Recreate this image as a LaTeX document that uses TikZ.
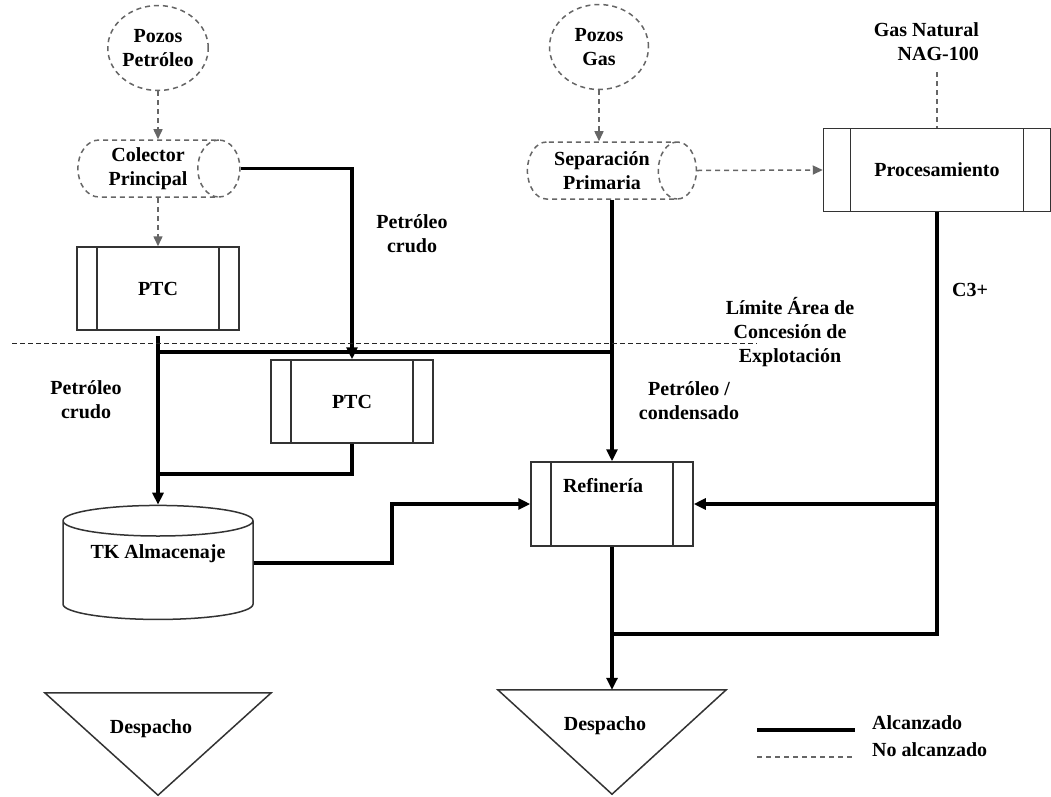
\documentclass[tikz,border=0pt]{standalone}
\usepackage{fontspec}
\setmainfont{Liberation Serif}
\usetikzlibrary{shapes.geometric,arrows.meta}

\begin{document}
\begin{tikzpicture}
            [x=1pt, y=-1pt, inner sep=2pt, align=center,
            font=\fontsize{20}{24}\selectfont\bfseries,
            shapeline/.style={draw=black!80, line width=1.5pt},
            procbox/.style={shapeline, rectangle, inner sep=0pt,
                minimum width=162pt, minimum height=83pt,
                path picture={
                    \draw[shapeline] ([xshift=#1]path picture bounding box.north west) -- ([xshift=#1]path picture bounding box.south west)
                        ([xshift=-#1]path picture bounding box.north east) -- ([xshift=-#1]path picture bounding box.south east);
                }},
            procbox/.default=20pt,
            nogo/.style={draw=black!60, line width=1.5pt, dash pattern=on 5pt off 4pt},
            wellnode/.style={nogo, ellipse, inner sep=0pt, minimum width=99pt, minimum height=85pt},
            sepnode/.style={nogo, cylinder, shape aspect=1, inner sep=0pt, minimum width=57pt},
            despbox/.style={inner sep=0pt, minimum width=226pt, minimum height=102pt},
            flow/.style={draw=black, line width=3.2pt},
            flowtip/.style={-{Triangle[length=12pt, width=11pt]}},
            nogotip/.style={-{Triangle[length=10pt, width=9pt]}}]
            \useasboundingbox (0,0) rectangle (1051,796);
            % left column
            \node [wellnode] (pozospet) at (158,48) {Pozos\\Petróleo};
            \node [sepnode, minimum height=162pt] (colector) at (148,168.5) {Colector\\Principal};
            \node [procbox] (ptc1) at (158,288.5) {PTC};
            \node [procbox] (ptc2) at (352,401.5) {PTC};
            \node [shapeline, cylinder, shape border rotate=90, shape aspect=0.22,
                minimum width=190pt, minimum height=114pt] (tank) at (158,572) {\raisebox{14pt}[0pt][0pt]{TK Almacenaje}};
            \node [despbox, label={[anchor=center, xshift=-7pt, yshift=-36pt]north:Despacho}] (desp1) at (158,744) {};
            % right column
            \node [wellnode] (pozosgas) at (599,47) {Pozos\\Gas};
            \node [sepnode, minimum height=169pt] (sep) at (602,170.5) {Separación\\Primaria};
            \node [procbox=27pt, minimum width=227pt] (proc) at (937,170) {Procesamiento};
            \node [procbox, minimum height=84pt,
                label={[anchor=center, xshift=-9pt, yshift=-24pt]north:Refinería}] (refi) at (612,504) {};
            \node [despbox, minimum width=228pt, minimum height=104pt,
                label={[anchor=center, xshift=-7pt, yshift=-36pt]north:Despacho}] (desp2) at (612,742) {};
            \foreach \d in {desp1,desp2}
                \draw [shapeline] (\d.north west) -- (\d.north east) -- (\d.south) -- cycle;
            \node [anchor=east, align=right] (gasnat) at (981,41.5) {Gas Natural\\NAG-100};
            \coordinate (gn) at (937,72);
            \coordinate (stepT) at (392,504);
            \coordinate (lim1) at (12,343);
            \coordinate (lim2) at (757,343);
            % flows
            \draw [nogo, nogotip] (pozospet.south) -- (pozospet.south |- colector.north);
            \draw [nogo, nogotip] (ptc1.north |- colector.south) -- (ptc1.north);
            \draw [nogo, nogotip] (pozosgas.south) -- (pozosgas.south |- sep.north);
            \draw [nogo, nogotip] (sep.east) -- (proc.west);
            \draw [nogo] (gn) -- (proc.north);
            \draw [flow, flowtip] (colector.east) -| (ptc2.north);
            \draw [flow, flowtip] ([yshift=-5pt]ptc1.south) -- (ptc1.south |- tank.north);
            \draw [flow] (ptc1.south |- 0,352) -- (refi.north |- 0,352);
            \draw [flow] (ptc2.south) |- (ptc1.south |- 0,474);
            \draw [flow, flowtip] (refi.north |- sep.south) -- (refi.north);
            \draw [flow, flowtip] (tank.east |- 0,563) -| (stepT) -- (refi.west);
            \draw [flow] (proc.south) -- (proc.south |- 0,634) -- (refi.south |- 0,634);
            \draw [flow, flowtip] (proc.south |- refi.east) -- (refi.east);
            \draw [flow, flowtip] (refi.south) -- (desp2.north);
            \draw [draw=black!85, line width=1pt, dash pattern=on 5pt off 3pt] (lim1) -- (lim2);
            % labels
            \node (crudo1) at (412,234) {Petróleo\\crudo};
            \node (crudo2) at (86,400) {Petróleo\\crudo};
            \node (conden) at (689,401) {Petróleo /\\condensado};
            \node (c3) at (970,290) {C3+};
            \node [text depth=0pt] (limite) at (790,330) {Límite Área de\\Concesión de\\Explotación};
            % legend
            \coordinate (leg1a) at (757,730);
            \coordinate (leg1b) at (855,730);
            \coordinate (leg2a) at (757,757);
            \coordinate (leg2b) at (853,757);
            \draw [flow] (leg1a) -- (leg1b);
            \draw [nogo] (leg2a) -- (leg2b);
            \node [anchor=west] (alc) at (870,723) {Alcanzado};
            \node [anchor=west] (noalc) at (870,750) {No alcanzado};
\end{tikzpicture}
\end{document}
